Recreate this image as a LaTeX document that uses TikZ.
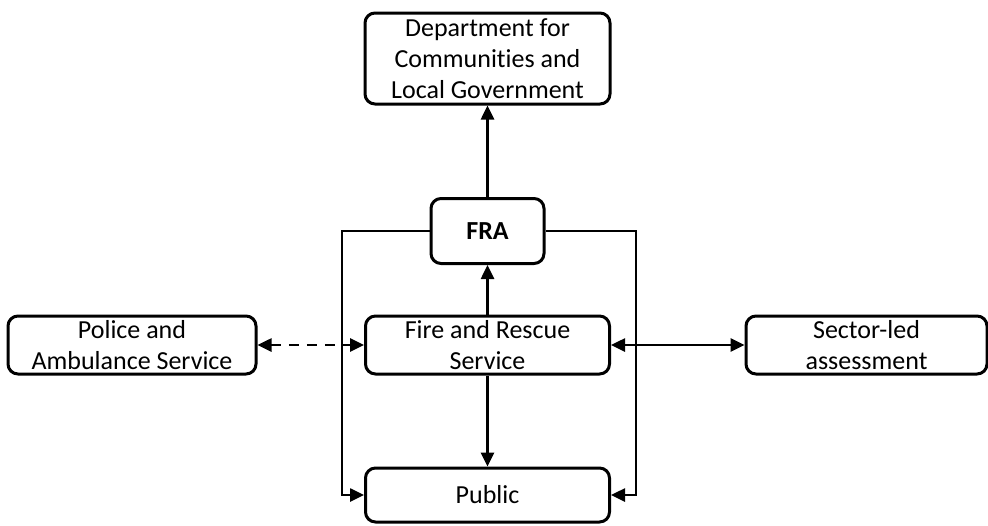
\documentclass[tikz,border=0pt]{standalone}
\usepackage{fontspec}
\setmainfont{Carlito}[Ligatures=NoCommon]
\usetikzlibrary{arrows.meta}

\tikzset{
  box/.style={draw, line width=1.5pt, rounded corners=5pt, align=center,
    inner sep=1pt, font=\fontsize{13}{15.5}\selectfont},
  link/.style={line width=1.3pt, ->},
}

\begin{document}
\begin{tikzpicture}[x=0.5pt, y=-0.5pt, >={Triangle[length=7pt,width=6.5pt]}]
  \useasboundingbox (0,0) rectangle (988,525);

  % Boxes
  \node[box, minimum width=122.5pt, minimum height=45.5pt] (dclg) at (487.5,58.5)
    {Department for\\Communities and\\Local Government};
  \node[box, minimum width=56.5pt, minimum height=32.5pt] (fra) at (487.5,231)
    {\textbf{FRA}};
  \node[box, minimum width=122pt, minimum height=29pt] (fire) at (487.5,345)
    {Fire and Rescue\\Service};
  \node[box, minimum width=124pt, minimum height=29pt] (police) at (132,345)
    {Police and\\Ambulance Service};
  \node[box, minimum width=120.5pt, minimum height=29pt] (sector) at (866.5,345)
    {Sector-led\\assessment};
  \node[box, minimum width=122pt, minimum height=27pt] (public) at (487.5,495)
    {Public};

  % Corners of the side lines
  \coordinate (lcorner) at (342,495);
  \coordinate (rcorner) at (636,495);

  % Arrows
  \draw[link] (fra) -- (dclg);
  \draw[link] (fire) -- (fra);
  \draw[link] (fire) -- (public);
  \draw[link, <->, dash pattern=on 5pt off 4pt] (police) -- (fire);
  \draw[link, <->] (fire) -- (sector);
  \draw[link] (fra.west) -| (lcorner) -- (public.west);
  \draw[link] (fra.east) -| (rcorner) -- (public.east);
\end{tikzpicture}
\end{document}
